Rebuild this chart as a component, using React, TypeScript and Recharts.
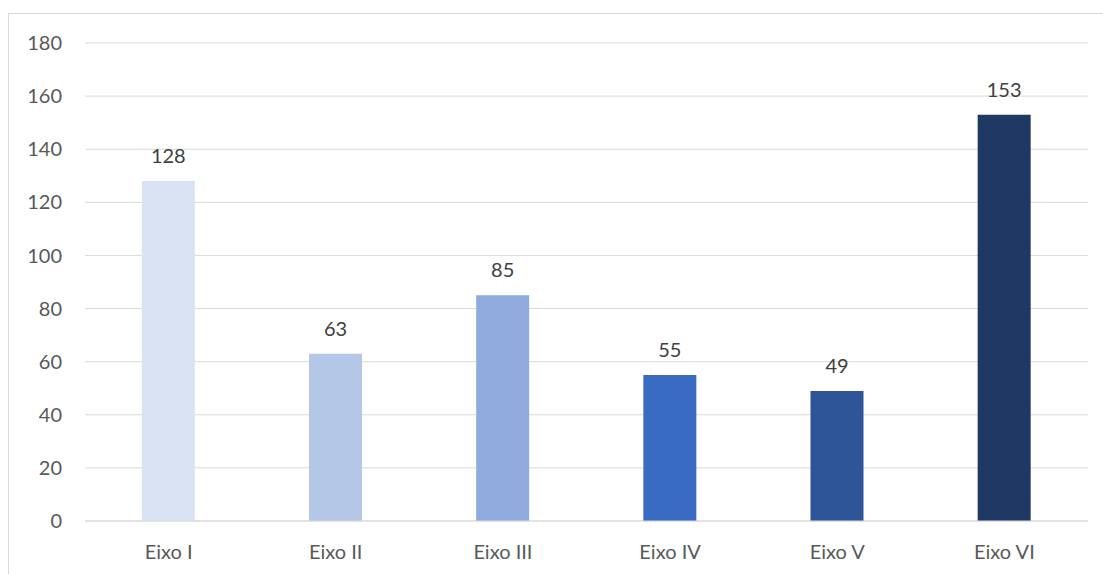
import React from 'react';
import { BarChart, Bar, XAxis, YAxis, CartesianGrid, LabelList, Cell } from 'recharts';

const categories = ['Eixo I', 'Eixo II', 'Eixo III', 'Eixo IV', 'Eixo V', 'Eixo VI'];
const values = [128, 63, 85, 55, 49, 153];
const barColors = ['#DAE3F3', '#B4C7E7', '#8FAADC', '#3A6BC2', '#2E5597', '#203864'];
const yTicks = [0, 20, 40, 60, 80, 100, 120, 140, 160, 180];

const data = categories.map((name, i) => ({ name, value: values[i] }));

const FONT = 'Lato, "Open Sans", sans-serif';

const App: React.FC = () => {
    return (
        <div style={{ position: 'absolute', left: 0, top: 0, width: 1103, height: 574, overflow: 'hidden', background: '#fff' }}>
            {/* chart frame, runs off the right and bottom edges */}
            <div style={{ position: 'absolute', left: 8, top: 13, width: 1200, height: 700, border: '1px solid #d9d9d9' }} />
            <div style={{ position: 'absolute', left: 0, top: 0 }}>
                <BarChart
                    width={1103}
                    height={574}
                    data={data}
                    margin={{ top: 43, right: 15, bottom: 23, left: 0 }}
                    barCategoryGap="34%"
                >
                    <CartesianGrid vertical={false} stroke="#d9d9d9" strokeWidth={1} />
                    <XAxis
                        dataKey="name"
                        axisLine={{ stroke: '#d9d9d9' }}
                        tickLine={false}
                        tickSize={0}
                        tickMargin={24}
                        height={30}
                        tick={{ fontSize: 20, fill: '#595959', fontFamily: FONT }}
                    />
                    <YAxis
                        domain={[0, 180]}
                        ticks={yTicks}
                        axisLine={false}
                        tickLine={false}
                        tickSize={0}
                        tickMargin={23}
                        width={85}
                        interval={0}
                        tick={{ fontSize: 20, fill: '#595959', fontFamily: FONT }}
                    />
                    <Bar dataKey="value" isAnimationActive={false}>
                        {data.map((entry, index) => (
                            <Cell key={`cell-${index}`} fill={barColors[index]} />
                        ))}
                        <LabelList
                            dataKey="value"
                            position="top"
                            offset={18}
                            style={{ fontSize: 20, fill: '#404040', fontFamily: FONT }}
                        />
                    </Bar>
                </BarChart>
            </div>
        </div>
    );
};

export default App;
